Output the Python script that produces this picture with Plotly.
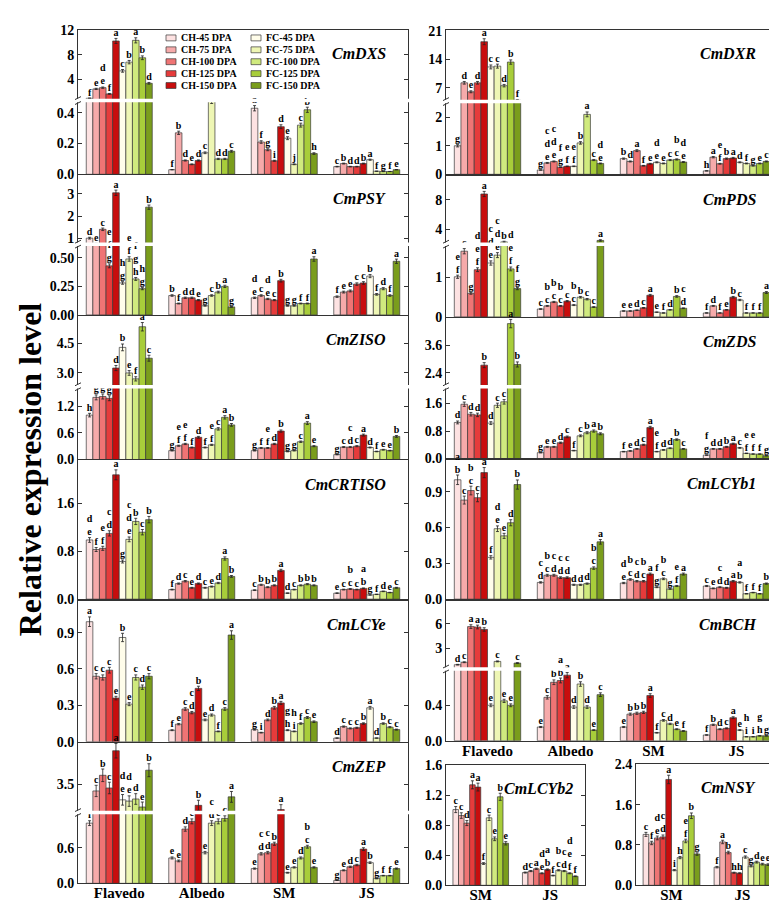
import plotly.graph_objects as go

W, H = 777, 903
FONT = "Liberation Serif"
LC = "#333333"

TISSUES = ["Flavedo", "Albedo", "SM", "JS"]
SEEDS = ["SM", "JS"]
SERIES = ["CH-45 DPA", "CH-75 DPA", "CH-100 DPA", "CH-125 DPA", "CH-150 DPA",
          "FC-45 DPA", "FC-75 DPA", "FC-100 DPA", "FC-125 DPA", "FC-150 DPA"]
COLORS = ["#fde2e2", "#f6aaaa", "#ef7474", "#e63b3b", "#c80d0d",
          "#fffdea", "#eef6b4", "#d0ea7e", "#a8cd3a", "#7a9d1c"]

# ---- data: rows = tissues, columns = 45/75/100/125/150 DPA ----
DXS_CH = [[1.0, 2.5, 2.7, 1.7, 10.2], [0.03, 0.27, 0.09, 0.065, 0.09],
          [0.43, 0.21, 0.16, 0.088, 0.31], [0.05, 0.07, 0.05, 0.05, 0.07]]
DXS_FC = [[5.4, 6.8, 10.3, 7.5, 3.4], [0.14, 0.48, 0.10, 0.10, 0.15],
          [0.235, 0.065, 0.32, 0.42, 0.135], [0.095, 0.02, 0.018, 0.018, 0.03]]
DXS_CH_SIG = [["f", "e", "de", "f", "a"], ["f", "b", "d", "e", "d"],
              ["a", "f", "g", "i", "d"], ["c", "b", "d", "d", "b"]]
DXS_FC_SIG = [["c", "b", "a", "b", "d"], ["c", "a", "d", "d", "c"],
              ["e", "j", "c", "b", "h"], ["a", "f", "g", "f", "e"]]

DXR_CH = [[1.0, 8.2, 6.0, 8.2, 18.3], [0.15, 0.4, 0.45, 0.25, 0.28],
          [0.55, 0.45, 0.83, 0.3, 0.37], [0.12, 0.6, 0.37, 0.55, 0.57]]
DXR_FC = [[12.1, 12.3, 7.5, 13.3, 3.9], [0.28, 1.1, 2.1, 0.5, 0.38],
          [0.42, 0.38, 0.5, 0.52, 0.43], [0.42, 0.38, 0.3, 0.38, 0.45]]
DXR_CH_SIG = [["g", "d", "e", "d", "a"], ["g", "cde", "cde", "fg", "ef"],
              ["b", "d", "a", "f", "e"], ["h", "a", "ef", "b", "a"]]
DXR_FC_SIG = [["c", "c", "d", "b", "f"], ["ef", "b", "a", "c", "de"],
              ["de", "e", "c", "bc", "de"], ["d", "f", "g", "e", "c"]]

PSY_CH = [[1.0, 0.74, 1.4, 0.43, 3.05], [0.17, 0.1, 0.15, 0.15, 0.13],
          [0.15, 0.17, 0.14, 0.13, 0.3], [0.16, 0.2, 0.21, 0.27, 0.28]]
PSY_FC = [[0.28, 0.49, 0.315, 0.23, 2.4], [0.08, 0.17, 0.2, 0.25, 0.07],
          [0.08, 0.08, 0.1, 0.1, 0.49], [0.34, 0.18, 0.23, 0.17, 0.47]]
PSY_CH_SIG = [["d", "e", "c", "efg", "a"], ["b", "f", "d", "d", "e"],
              ["de", "c", "de", "c", "b"], ["f", "e", "e", "c", "c"]]
PSY_FC_SIG = [["hg", "ef", "fgh", "hg", "b"], ["g", "c", "b", "a", "g"],
              ["g", "g", "f", "f", "a"], ["b", "f", "d", "f", "a"]]

PDS_CH = [[1.02, 1.67, 0.6, 1.2, 8.8], [0.2, 0.28, 0.38, 0.28, 0.4],
          [0.15, 0.15, 0.17, 0.23, 0.55], [0.1, 0.28, 0.1, 0.18, 0.5]]
PDS_FC = [[1.37, 1.57, 2.3, 1.22, 0.72], [0.3, 0.5, 0.45, 0.25, 2.5],
          [0.12, 0.1, 0.18, 0.52, 0.22], [0.43, 0.1, 0.1, 0.1, 0.62]]
PDS_CH_SIG = [["ef", "c", "g", "def", "a"], ["c", "bc", "bc", "bc", "c"],
              ["e", "e", "d", "c", "a"], ["f", "d", "f", "e", "b"]]
PDS_FC_SIG = [["cde", "cde", "b", "def", "fg"], ["bc", "b", "c", "c", "a"],
              ["e", "f", "d", "b", "cd"], ["c", "f", "f", "f", "a"]]

ZISO_CH = [[1.0, 1.4, 1.42, 1.38, 3.25], [0.2, 0.31, 0.35, 0.27, 0.5],
           [0.2, 0.26, 0.26, 0.35, 0.64], [0.11, 0.28, 0.28, 0.3, 0.55]]
ZISO_FC = [[4.3, 3.0, 2.7, 5.35, 3.75], [0.27, 0.33, 0.69, 0.95, 0.78],
           [0.18, 0.2, 0.4, 0.82, 0.3], [0.27, 0.18, 0.22, 0.2, 0.52]]
ZISO_CH_SIG = [["h", "g", "g", "g", "d"], ["g", "ef", "ef", "f", "d"],
               ["g", "f", "ef", "d", "b"], ["g", "c", "cd", "c", "a"]]
ZISO_FC_SIG = [["b", "e", "f", "a", "c"], ["f", "ef", "c", "a", "b"],
               ["g", "g", "c", "a", "e"], ["d", "f", "e", "e", "b"]]

ZDS_CH = [[1.05, 1.58, 1.29, 1.27, 2.74], [0.17, 0.34, 0.34, 0.46, 0.63],
          [0.2, 0.22, 0.28, 0.4, 0.9], [0.1, 0.28, 0.28, 0.34, 0.43]]
ZDS_FC = [[1.03, 1.55, 1.65, 4.55, 2.77], [0.23, 0.66, 0.75, 0.8, 0.72],
          [0.2, 0.25, 0.3, 0.55, 0.28], [0.31, 0.15, 0.13, 0.13, 0.08]]
ZDS_CH_SIG = [["d", "c", "d", "d", "b"], ["g", "e", "e", "d", "c"],
              ["f", "e", "d", "c", "a"], ["fg", "d", "d", "b", "a"]]
ZDS_FC_SIG = [["d", "c", "c", "a", "b"], ["f", "c", "b", "a", "b"],
              ["ef", "d", "d", "b", "c"], ["c", "ef", "ef", "f", "g"]]

CRTISO_CH = [[0.99, 0.83, 0.85, 1.1, 2.08], [0.16, 0.26, 0.3, 0.19, 0.26],
             [0.15, 0.24, 0.2, 0.23, 0.48], [0.1, 0.16, 0.17, 0.16, 0.18]]
CRTISO_FC = [[0.63, 1.0, 1.3, 1.12, 1.33], [0.19, 0.21, 0.27, 0.68, 0.38],
             [0.1, 0.16, 0.23, 0.25, 0.23], [0.07, 0.08, 0.13, 0.11, 0.19]]
CRTISO_CH_SIG = [["de", "f", "ef", "cd", "a"], ["f", "d", "c", "e", "d"],
                 ["c", "b", "b", "b", "a"], ["e", "c", "bc", "c", "ab"]]
CRTISO_FC_SIG = [["g", "cde", "b", "c", "b"], ["c", "e", "d", "a", "b"],
                 ["d", "c", "b", "b", "b"], ["g", "f", "d", "e", "c"]]

LCYB1_CH = [[1.0, 0.83, 0.91, 0.85, 1.06], [0.14, 0.2, 0.2, 0.18, 0.18],
            [0.135, 0.165, 0.15, 0.15, 0.21], [0.11, 0.09, 0.1, 0.095, 0.15]]
LCYB1_FC = [[0.35, 0.59, 0.53, 0.64, 0.96], [0.12, 0.12, 0.13, 0.26, 0.48],
            [0.1, 0.17, 0.085, 0.11, 0.21], [0.14, 0.045, 0.055, 0.045, 0.13]]
LCYB1_CH_SIG = [["ab", "c", "bc", "c", "a"], ["cd", "bc", "cd", "cd", "cd"],
                ["de", "bc", "cd", "bc", "a"], ["c", "e", "cd", "d", "a"]]
LCYB1_FC_SIG = [["f", "de", "e", "d", "b"], ["d", "d", "d", "bc", "a"],
                ["fg", "bc", "g", "ef", "a"], ["ab", "f", "f", "f", "b"]]

LCYE_CH = [[0.99, 0.54, 0.53, 0.59, 0.36], [0.095, 0.145, 0.27, 0.24, 0.44],
           [0.1, 0.075, 0.18, 0.28, 0.32], [0.03, 0.125, 0.11, 0.115, 0.15]]
LCYE_FC = [[0.86, 0.31, 0.53, 0.45, 0.54], [0.18, 0.22, 0.085, 0.27, 0.88],
           [0.095, 0.085, 0.15, 0.2, 0.165], [0.28, 0.03, 0.15, 0.12, 0.1]]
LCYE_CH_SIG = [["a", "c", "c", "c", "e"], ["f", "e", "c", "cd", "b"],
               ["g", "i", "d", "b", "a"], ["d", "c", "c", "c", "b"]]
LCYE_FC_SIG = [["b", "e", "c", "d", "c"], ["e", "d", "f", "c", "a"],
               ["gh", "hi", "f", "c", "e"], ["a", "d", "b", "c", "c"]]

BCH_CH = [[1.0, 1.3, 5.65, 5.6, 5.3], [0.155, 0.49, 0.66, 0.68, 0.74],
          [0.155, 0.3, 0.31, 0.32, 0.51], [0.065, 0.18, 0.13, 0.14, 0.26]]
BCH_FC = [[0.4, 1.4, 0.45, 0.4, 1.2], [0.38, 0.64, 0.38, 0.12, 0.52],
          [0.09, 0.23, 0.19, 0.13, 0.11], [0.12, 0.045, 0.045, 0.055, 0.055]]
BCH_CH_SIG = [["d", "c", "a", "a", "b"], ["e", "c", "b", "ab", "a"],
              ["e", "b", "b", "b", "a"], ["f", "b", "d", "c", "a"]]
BCH_FC_SIG = [["e", "c", "e", "e", "c"], ["d", "b", "d", "e", "c"],
              ["f", "c", "d", "e", "f"], ["e", "hi", "i", "gh", "g"]]

ZEP_CH = [[1.02, 3.34, 3.71, 3.41, 4.29], [0.43, 0.38, 0.92, 1.05, 3.0],
          [0.25, 0.5, 0.52, 0.67, 2.9], [0.05, 0.22, 0.28, 0.31, 0.58]]
ZEP_FC = [[3.13, 3.1, 3.15, 2.96, 3.83], [0.52, 1.02, 1.05, 1.1, 3.2],
          [0.18, 0.27, 0.43, 0.62, 0.27], [0.35, 0.08, 0.13, 0.13, 0.25]]
ZEP_CH_SIG = [["f", "c", "b", "c", "a"], ["e", "e", "d", "c", "b"],
              ["e", "cd", "cd", "b", "a"], ["g", "e", "d", "c", "a"]]
ZEP_FC_SIG = [["de", "de", "d", "e", "b"], ["e", "cd", "c", "c", "a"],
              ["e", "e", "d", "bc", "e"], ["b", "g", "f", "f", "e"]]

LCYB2_CH = [[1.01, 0.93, 0.83, 1.34, 1.31], [0.17, 0.19, 0.22, 0.16, 0.21]]
LCYB2_FC = [[0.29, 0.9, 0.62, 1.18, 0.56], [0.13, 0.2, 0.19, 0.16, 0.12]]
LCYB2_CH_SIG = [["c", "c", "d", "a", "a"], ["d", "c", "a", "de", "ab"]]
LCYB2_FC_SIG = [["f", "c", "e", "b", "e"], ["f", "bc", "cd", "def", "f"]]

NSY_CH = [[1.01, 0.84, 0.94, 0.96, 2.1], [0.36, 0.86, 0.65, 0.25, 0.24]]
NSY_FC = [[0.3, 0.55, 0.88, 1.38, 0.62], [0.56, 0.38, 0.46, 0.42, 0.41]]
NSY_CH_SIG = [["c", "f", "de", "cd", "a"], ["f", "a", "b", "h", "h"]]
NSY_FC_SIG = [["i", "h", "ef", "b", "g"], ["c", "g", "d", "e", "e"]]

# ---- panel layout (pixel geometry); segs: (top_px, bottom_px, lo, hi, tickvals, tickformat)
LEFT, RIGHT = (70, 400), (438, 770)
PANELS = [
    dict(name="CmDXS", ch=DXS_CH, fc=DXS_FC, chs=DXS_CH_SIG, fcs=DXS_FC_SIG, cats=TISSUES, x=LEFT, xlab=False,
         tpad=20, segs=[(87, 162, 0, 0.48, [0, 0.2, 0.4], ".1f"), (15, 87, 0.63, 12, [4, 8, 12], "d")]),
    dict(name="CmPSY", ch=PSY_CH, fc=PSY_FC, chs=PSY_CH_SIG, fcs=PSY_FC_SIG, cats=TISSUES, x=LEFT, xlab=False,
         tpad=20, segs=[(233, 305, 0, 0.62, [0, 0.25, 0.5], ".2f"), (163, 233, 0.73, 3.84, [1, 2, 3], "d")]),
    dict(name="CmZISO", ch=ZISO_CH, fc=ZISO_FC, chs=ZISO_CH_SIG, fcs=ZISO_FC_SIG, cats=TISSUES, x=LEFT,
         xlab=False, tpad=20,
         segs=[(378, 452, 0, 1.64, [0, 0.6, 1.2], ".1f"), (306, 378, 2.3, 5.9, [3.0, 4.5], ".1f")]),
    dict(name="CmCRTISO", ch=CRTISO_CH, fc=CRTISO_FC, chs=CRTISO_CH_SIG, fcs=CRTISO_FC_SIG, cats=TISSUES, x=LEFT,
         xlab=False, tpad=20, segs=[(453, 594, 0, 2.32, [0, 0.8, 1.6], ".1f")]),
    dict(name="CmLCYe", ch=LCYE_CH, fc=LCYE_FC, chs=LCYE_CH_SIG, fcs=LCYE_FC_SIG, cats=TISSUES, x=LEFT,
         xlab=False, tpad=20, segs=[(596, 739, 0, 1.16, [0, 0.3, 0.6, 0.9], ".1f")]),
    dict(name="CmZEP", ch=ZEP_CH, fc=ZEP_FC, chs=ZEP_CH_SIG, fcs=ZEP_FC_SIG, cats=TISSUES, x=LEFT, xlab=True,
         tpad=20, segs=[(811, 883, 0, 1.2, [0, 0.6], ".1f"), (740, 811, 2.83, 4.48, [3.5], ".1f")]),
    dict(name="CmDXR", ch=DXR_CH, fc=DXR_FC, chs=DXR_CH_SIG, fcs=DXR_FC_SIG, cats=TISSUES, x=RIGHT, xlab=False,
         tpad=20, segs=[(88, 162, 0, 2.55, [0, 1, 2], "d"), (15, 88, 3.6, 21.24, [7, 14, 21], "d")]),
    dict(name="CmPDS", ch=PDS_CH, fc=PDS_FC, chs=PDS_CH_SIG, fcs=PDS_FC_SIG, cats=TISSUES, x=RIGHT, xlab=False,
         tpad=20, segs=[(233, 307, 0, 1.85, [0, 1], "d"), (164, 233, 2.0, 11.2, [4, 8], "d")]),
    dict(name="CmZDS", ch=ZDS_CH, fc=ZDS_FC, chs=ZDS_CH_SIG, fcs=ZDS_FC_SIG, cats=TISSUES, x=RIGHT, xlab=False,
         tpad=20, segs=[(378, 451, 0, 2.09, [0, 0.8, 1.6], ".1f"), (308, 378, 1.8, 4.8, [2.4, 3.6], ".1f")]),
    dict(name="CmLCYb1", ch=LCYB1_CH, fc=LCYB1_FC, chs=LCYB1_CH_SIG, fcs=LCYB1_FC_SIG, cats=TISSUES, x=RIGHT,
         xlab=False, tpad=20, segs=[(452, 594, 0, 1.17, [0, 0.3, 0.6, 0.9], ".1f")]),
    dict(name="CmBCH", ch=BCH_CH, fc=BCH_FC, chs=BCH_CH_SIG, fcs=BCH_FC_SIG, cats=TISSUES, x=RIGHT, xlab=True,
         tpad=20, segs=[(665, 738, 0, 0.81, [0, 0.4], ".1f"), (596, 665, 0.48, 8.76, [3, 6], "d")]),
    dict(name="CmLCYb2", ch=LCYB2_CH, fc=LCYB2_FC, chs=LCYB2_CH_SIG, fcs=LCYB2_FC_SIG, cats=SEEDS, x=(438, 577),
         xlab=True, tpad=10, segs=[(763, 885, 0, 1.6, [0, 0.4, 0.8, 1.2, 1.6], ".1f")]),
    dict(name="CmNSY", ch=NSY_CH, fc=NSY_FC, chs=NSY_CH_SIG, fcs=NSY_FC_SIG, cats=SEEDS, x=(628, 770),
         xlab=True, tpad=20, segs=[(762, 885, 0, 2.4, [0, 0.8, 1.6, 2.4], ".1f")]),
]


def fx(x):
    return x / W


def fy(y):
    return 1 - y / H


BW = 0.08
OFFS = [-0.36 + BW * i for i in range(10)]
ERR = 4

fig = go.Figure()
layout = {}
shapes = []
annotations = []
n_ax = 0
tickfont = dict(family=FONT, size=14, color="black", weight="bold")

for p in PANELS:
    cats = p["cats"]
    n = len(cats)
    x0, x1 = p["x"]
    vals = [list(p["ch"][c]) + list(p["fc"][c]) for c in range(n)]
    sigs = [list(p["chs"][c]) + list(p["fcs"][c]) for c in range(n)]
    segs = p["segs"]
    broken = len(segs) > 1
    bot_hi = segs[0][3]
    for si, (top, bot, lo, hi, tv, fmt) in enumerate(segs):
        n_ax += 1
        sx = "" if n_ax == 1 else str(n_ax)
        xa = dict(domain=[fx(x0), fx(x1)], range=[-0.5, n - 0.5], anchor="y" + sx,
                  showline=True, linecolor=LC, linewidth=1, showgrid=False, zeroline=False,
                  ticks="", fixedrange=True, tickvals=list(range(n)), ticktext=cats,
                  showticklabels=(si == 0 and p["xlab"]), ticklabelstandoff=-4,
                  tickfont=dict(family=FONT, size=15, color="black", weight="bold"))
        if not broken:
            xa["mirror"] = True
        elif si == 1:
            xa["side"] = "top"
        ya = dict(domain=[fy(bot), fy(top)], range=[lo, hi], anchor="x" + sx,
                  showline=True, mirror="ticks", linecolor=LC, linewidth=1,
                  ticks="inside", ticklen=4, tickcolor=LC, tickvals=tv, tickformat=fmt,
                  showgrid=False, zeroline=False, tickfont=tickfont, fixedrange=True)
        layout["xaxis" + sx] = xa
        layout["yaxis" + sx] = ya
        tx, ty, tt = [], [], []
        for s in range(10):
            xs, ys = [], []
            for c in range(n):
                v = vals[c][s]
                xs.append(c + OFFS[s])
                if broken and si == 1:
                    ys.append(v if v > bot_hi else None)
                else:
                    ys.append(v)
                show = (not broken) or (si == 0 and v <= bot_hi) or (si == 1 and v > bot_hi)
                if show:
                    tx.append(c + OFFS[s])
                    ty.append(v * (1 + ERR / 100.0))
                    tt.append("<br>".join(list(sigs[c][s])))
            fig.add_trace(go.Bar(
                x=xs, y=ys, width=BW, name=SERIES[s], showlegend=False,
                marker=dict(color=COLORS[s], line=dict(color="#3a3a3a", width=0.7)),
                error_y=dict(type="percent", value=ERR, thickness=0.8, width=1.5, color="#222222"),
                xaxis="x" + sx, yaxis="y" + sx, hoverinfo="skip"))
        fig.add_trace(go.Scatter(
            x=tx, y=ty, text=tt, mode="text", textposition="top center", cliponaxis=False,
            textfont=dict(family=FONT, size=10, color="black", weight="bold"),
            showlegend=False, hoverinfo="skip", xaxis="x" + sx, yaxis="y" + sx))
    if broken:
        brk = segs[0][0]
        shapes.append(dict(type="line", xref="paper", yref="paper", x0=fx(x0 - 1), x1=fx(x1 + 1),
                           y0=fy(brk), y1=fy(brk), line=dict(color="white", width=3.5), layer="above"))
        for d in (-2.5, 2.5):
            shapes.append(dict(type="line", xref="paper", yref="paper",
                               x0=fx(x0 - 3), x1=fx(x0 + 3), y0=fy(brk + d + 1.5), y1=fy(brk + d - 1.5),
                               line=dict(color=LC, width=1), layer="above"))
    top_px = segs[-1][0]
    annotations.append(dict(text="<b><i>%s</i></b>" % p["name"], xref="paper", yref="paper",
                            x=fx(x1 - p["tpad"]), y=fy(top_px + 24), xanchor="right", yanchor="middle",
                            showarrow=False, font=dict(family=FONT, size=16, color="black")))

# legend (drawn inside the CmDXS panel)
for s, name in enumerate(SERIES):
    col, row = divmod(s, 5)
    lx = 158 + 85 * col
    ly = 23.3 + 12.1 * row
    shapes.append(dict(type="rect", xref="paper", yref="paper", x0=fx(lx), x1=fx(lx + 10),
                       y0=fy(ly + 3), y1=fy(ly - 3), fillcolor=COLORS[s],
                       line=dict(color="#3a3a3a", width=0.7), layer="above"))
    annotations.append(dict(text="<b>%s</b>" % name, xref="paper", yref="paper", x=fx(lx + 13), y=fy(ly),
                            xanchor="left", yanchor="middle", showarrow=False,
                            font=dict(family=FONT, size=10, color="black")))

annotations.append(dict(text="<b>Relative expression level</b>", xref="paper", yref="paper",
                        x=fx(22), y=fy(462), textangle=-90, showarrow=False,
                        xanchor="center", yanchor="middle",
                        font=dict(family=FONT, size=32, color="black")))

fig.update_layout(**layout)
fig.update_layout(width=W, height=H, autosize=False, margin=dict(l=0, r=0, t=0, b=0),
                  paper_bgcolor="white", plot_bgcolor="white", barmode="overlay",
                  shapes=shapes, annotations=annotations, hovermode=False, showlegend=False)
fig.write_html("out.html")
